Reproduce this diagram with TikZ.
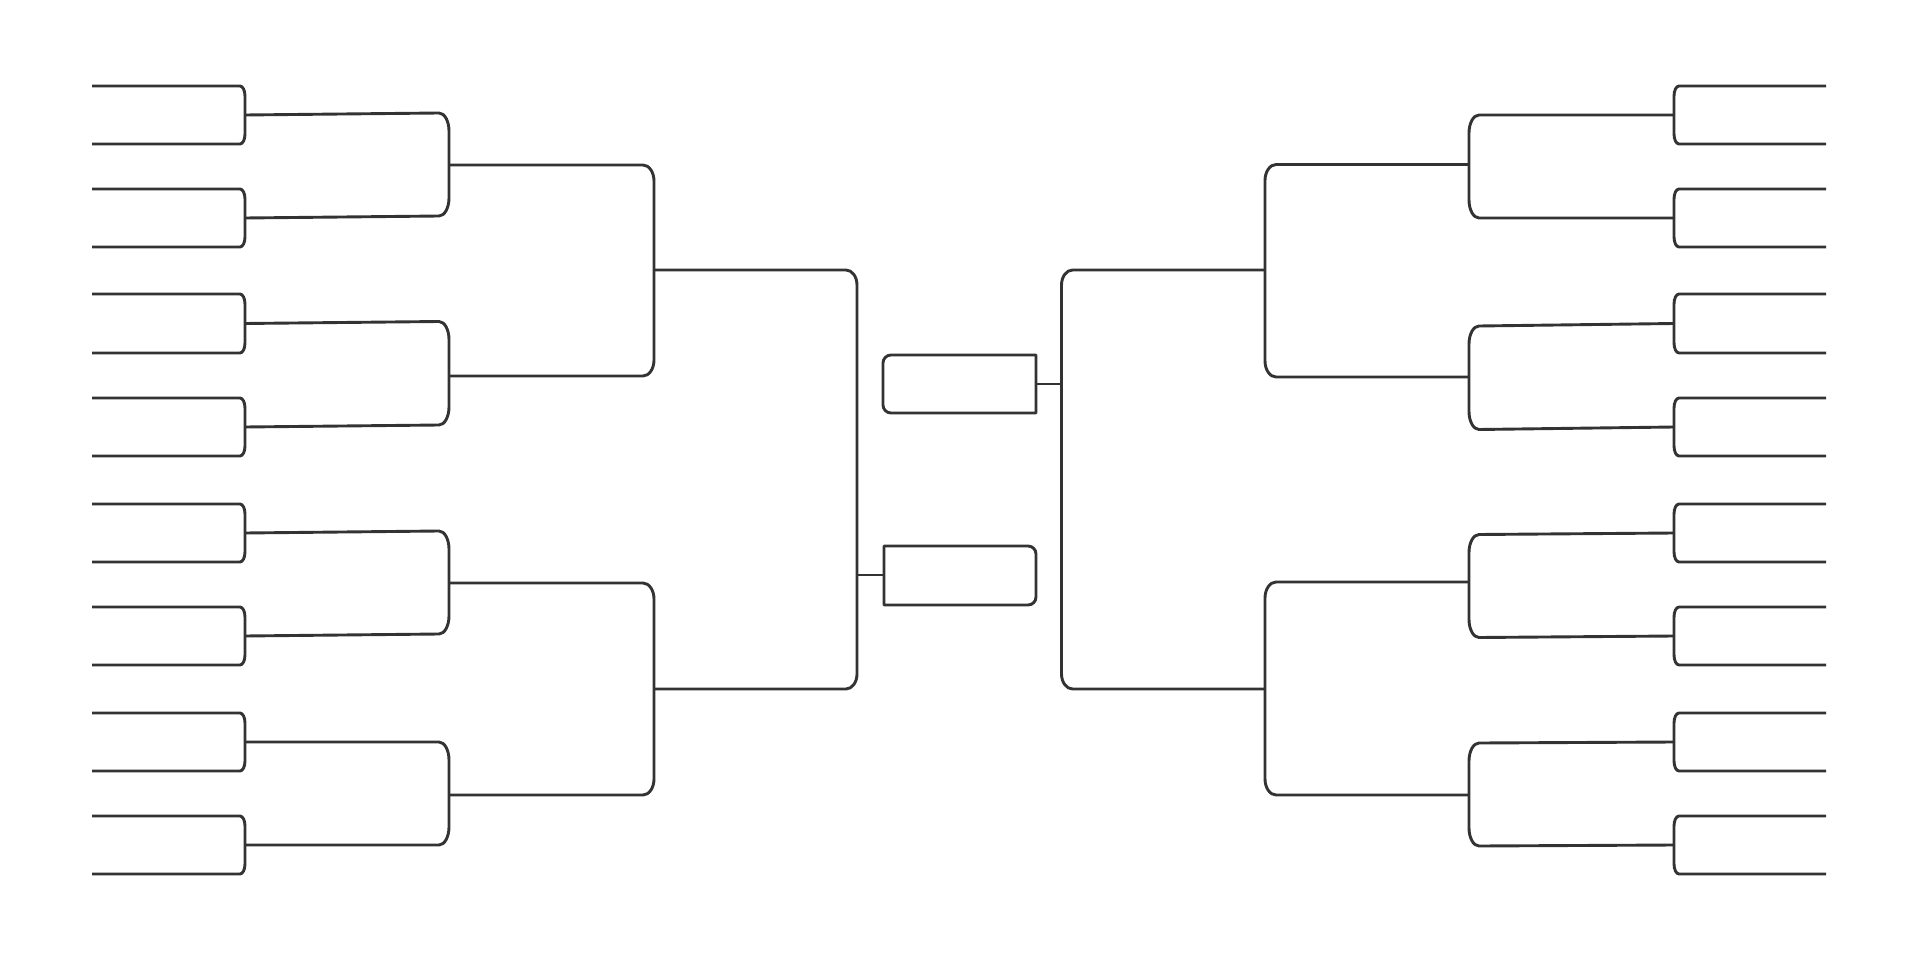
\documentclass[tikz,border=0pt]{standalone}
\usepackage{tikz}
\definecolor{ink}{HTML}{333333}
\tikzset{br/.style={draw=ink, line width=2.9pt, line join=round, line cap=butt}}
% #1 x0, #2 xb, #3 ya, #4 yb, #5 yc, #6 yd, #7 dir, #8 rx, #9 ry
\newcommand{\brk}[9]{%
  \draw[br] (#1,#3) -- ({#2-(#7)*#8},#4)
    .. controls ({#2-(#7)*0.45*#8},#4) and (#2,{#4+0.45*#9}) .. (#2,{#4+#9})
    -- (#2,{#5-#9})
    .. controls (#2,{#5-0.45*#9}) and ({#2-(#7)*0.45*#8},#5) .. ({#2-(#7)*#8},#5)
    -- (#1,#6);}
\begin{document}
\begin{tikzpicture}[x=1pt,y=-1pt]
\fill[white] (0,0) rectangle (1920,960);
\useasboundingbox (0,0) rectangle (1920,960);
% ---------- round 1 (both sides) ----------
\foreach \t/\b in {86/144,189/247,294/353,398/456,504/562,607/665,713/771,816/874}{
  \brk{92}{245}{\t}{\t}{\b}{\b}{1}{5}{10}
  \brk{1826}{1674}{\t}{\t}{\b}{\b}{-1}{5}{10}
}
% ---------- left side ----------
% round 2 left
\brk{245}{449}{115}{113}{216}{218}{1}{10}{18}
\brk{245}{449}{323.5}{321.5}{425}{427}{1}{10}{18}
\brk{245}{449}{533}{531}{634}{636}{1}{10}{18}
\brk{245}{449}{742}{742}{845}{845}{1}{10}{18}
% round 3 left
\brk{449}{654}{165}{165}{376}{376}{1}{11}{16}
\brk{449}{654}{583}{583}{795}{795}{1}{11}{16}
% round 4 left
\brk{654}{857}{270}{270}{689}{689}{1}{11}{15}
% ---------- right side ----------
% round 2 right
\brk{1674}{1469}{115}{115}{218}{218}{-1}{10}{18}
\brk{1674}{1469}{323.5}{326}{429.5}{427}{-1}{10}{18}
\brk{1674}{1469}{533}{534.5}{637.5}{636}{-1}{10}{18}
\brk{1674}{1469}{742}{743}{846}{845}{-1}{10}{18}
% round 3 right
\brk{1469}{1265}{164.5}{164.5}{377}{377}{-1}{11}{16}
\brk{1469}{1265}{582}{582}{795}{795}{-1}{11}{16}
% round 4 right
\brk{1265}{1061.5}{270}{270}{689}{689}{-1}{11}{15}
% ---------- final boxes ----------
\draw[br] (1036,355) -- (891,355) .. controls (886.6,355) and (883,358.6) .. (883,363)
  -- (883,405) .. controls (883,409.4) and (886.6,413) .. (891,413) -- (1036,413) -- cycle;
\draw[br] (1036,384) -- (1061.5,384);
\draw[br] (884,546) -- (1028,546) .. controls (1032.4,546) and (1036,549.6) .. (1036,554)
  -- (1036,597) .. controls (1036,601.4) and (1032.4,605) .. (1028,605) -- (884,605) -- cycle;
\draw[br] (857,575) -- (884,575);
\end{tikzpicture}
\end{document}
